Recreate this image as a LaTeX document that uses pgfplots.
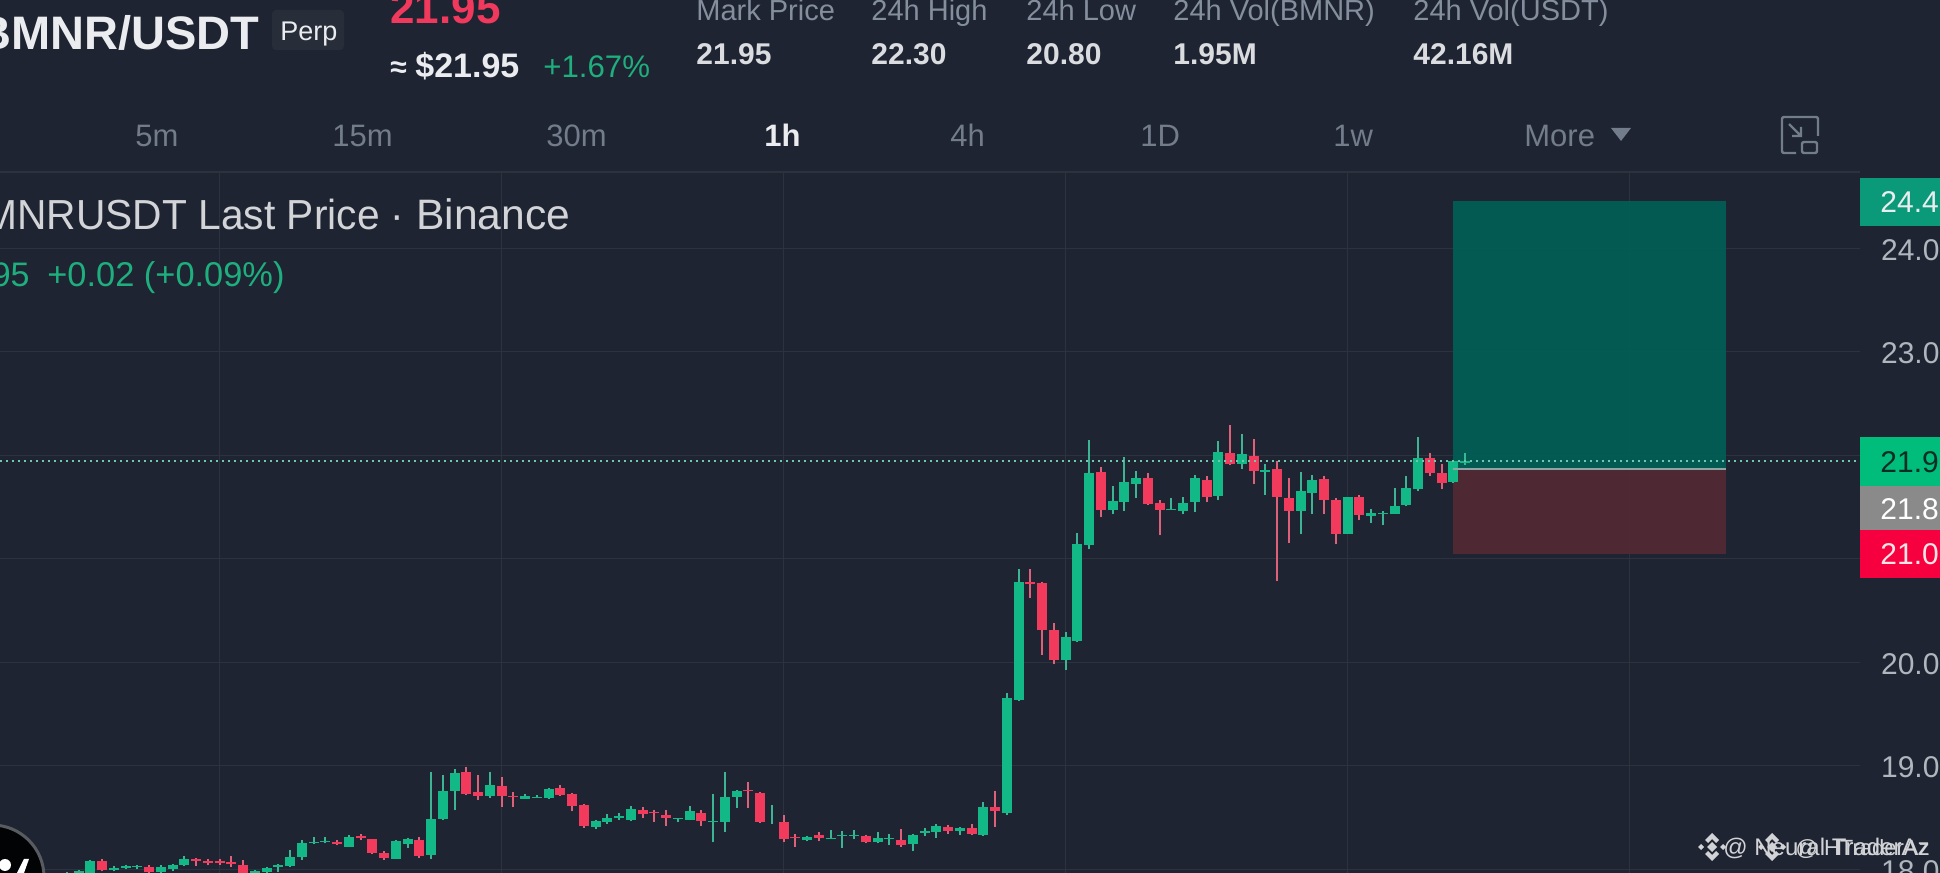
\documentclass[border=0pt]{standalone}
\usepackage{pgfplots}
\usepackage{pgfplotstable}
\usepackage{fontspec}
\setmainfont{Liberation Sans}
\pgfplotsset{compat=1.18}
\definecolor{bg}{HTML}{1E2431}
\definecolor{gridc}{HTML}{2C333F}
\definecolor{upc}{HTML}{12B886}
\definecolor{dnc}{HTML}{F23A5C}
\definecolor{upw}{HTML}{3DB594}
\definecolor{dnw}{HTML}{DF6079}
\definecolor{txtg}{HTML}{848E9C}
\definecolor{tabg}{HTML}{737C8A}
\definecolor{txtw}{HTML}{EAECEF}
\definecolor{ticktxt}{HTML}{B0B6BE}
\definecolor{greentxt}{HTML}{1FAF7E}
\definecolor{redtxt}{HTML}{F0395C}
\definecolor{tpbox}{HTML}{015F56}
\definecolor{slbox}{HTML}{522934}
\definecolor{lbA}{HTML}{0A9A7A}
\definecolor{lbB}{HTML}{00BD7B}
\definecolor{lbC}{HTML}{8A8A8A}
\definecolor{lbD}{HTML}{F6003F}
\definecolor{lineg}{HTML}{8FA5A5}
\definecolor{dotc}{HTML}{6FC8B0}
\definecolor{darkt}{HTML}{0D2D24}
\newcommand\FS[1]{\fontsize{#1pt}{#1pt}\selectfont}
\pgfplotstableread{
i o h l c
-13 17.93 17.97 17.93 17.96
-12 17.93 17.99 17.92 17.98
-11 17.93 18.09 17.92 18.08
-9 17.99 18.03 17.98 18.01
-8 18.01 18.04 18.00 18.03
-7 18.02 18.04 18.00 18.03
-5 17.97 18.04 17.95 18.02
-4 18.00 18.05 17.98 18.04
-3 18.04 18.13 18.03 18.10
3 17.95 17.99 17.94 17.98
4 17.97 18.02 17.96 18.01
5 18.02 18.05 17.97 18.04
6 18.03 18.19 18.02 18.12
7 18.12 18.28 18.09 18.25
8 18.25 18.31 18.24 18.26
9 18.26 18.31 18.25 18.27
11 18.22 18.33 18.22 18.31
15 18.10 18.28 18.10 18.27
16 18.24 18.30 18.21 18.29
18 18.14 18.94 18.10 18.49
19 18.49 18.91 18.48 18.76
20 18.76 18.97 18.57 18.93
23 18.71 18.94 18.69 18.81
26 18.68 18.73 18.68 18.71
27 18.69 18.72 18.69 18.70
28 18.69 18.79 18.68 18.78
32 18.41 18.48 18.39 18.47
33 18.46 18.53 18.44 18.50
34 18.50 18.54 18.48 18.51
35 18.48 18.61 18.47 18.58
39 18.49 18.50 18.46 18.50
40 18.48 18.61 18.48 18.56
42 18.46 18.73 18.26 18.47
43 18.46 18.94 18.36 18.70
44 18.70 18.77 18.59 18.76
47 18.48 18.62 18.44 18.48
50 18.28 18.32 18.27 18.31
52 18.29 18.38 18.29 18.30
53 18.32 18.37 18.21 18.33
54 18.32 18.38 18.29 18.33
56 18.26 18.36 18.25 18.30
57 18.29 18.34 18.23 18.30
59 18.24 18.34 18.18 18.33
60 18.35 18.40 18.32 18.37
61 18.36 18.44 18.30 18.42
63 18.37 18.41 18.33 18.40
65 18.33 18.65 18.32 18.60
67 18.54 19.70 18.52 19.65
68 19.64 20.90 19.63 20.78
72 20.02 20.29 19.93 20.24
73 20.21 21.25 20.20 21.14
74 21.13 22.15 21.09 21.83
76 21.47 21.70 21.43 21.56
77 21.55 21.98 21.46 21.74
78 21.72 21.85 21.59 21.78
81 21.47 21.59 21.47 21.48
82 21.46 21.60 21.43 21.54
83 21.55 21.81 21.45 21.78
85 21.61 22.14 21.57 22.03
87 21.92 22.21 21.87 22.01
89 21.84 21.92 21.62 21.86
92 21.46 21.84 21.24 21.65
93 21.64 21.81 21.43 21.76
96 21.24 21.60 21.24 21.60
98 21.41 21.48 21.35 21.44
99 21.43 21.46 21.33 21.44
100 21.43 21.68 21.43 21.51
101 21.52 21.80 21.51 21.68
102 21.67 22.18 21.65 21.97
105 21.74 21.94 21.73 21.94
106 21.93 22.02 21.91 21.94
}\uptab
\pgfplotstableread{
i o h l c
-10 18.08 18.10 17.98 17.99
-6 18.02 18.04 17.96 17.97
-2 18.10 18.11 18.03 18.08
-1 18.08 18.10 18.04 18.06
0 18.08 18.10 18.04 18.06
1 18.07 18.13 18.02 18.05
2 18.04 18.09 17.94 17.96
10 18.26 18.28 18.23 18.24
12 18.32 18.34 18.28 18.30
13 18.29 18.29 18.15 18.16
14 18.16 18.18 18.09 18.11
17 18.28 18.31 18.11 18.13
21 18.94 18.99 18.72 18.73
22 18.75 18.91 18.67 18.71
24 18.80 18.89 18.60 18.71
25 18.71 18.75 18.60 18.70
29 18.79 18.81 18.71 18.72
30 18.73 18.74 18.56 18.61
31 18.62 18.63 18.40 18.42
36 18.57 18.60 18.50 18.53
37 18.55 18.57 18.46 18.54
38 18.52 18.57 18.42 18.50
41 18.54 18.57 18.42 18.47
45 18.77 18.84 18.59 18.76
46 18.74 18.75 18.45 18.46
48 18.46 18.52 18.26 18.29
49 18.31 18.34 18.22 18.30
51 18.33 18.36 18.27 18.30
55 18.32 18.33 18.25 18.26
58 18.28 18.39 18.22 18.23
62 18.41 18.43 18.34 18.37
64 18.40 18.44 18.33 18.34
66 18.60 18.76 18.41 18.56
69 20.78 20.90 20.62 20.76
70 20.77 20.78 20.07 20.31
71 20.31 20.38 19.98 20.02
75 21.84 21.89 21.40 21.47
79 21.78 21.83 21.52 21.53
80 21.54 21.57 21.23 21.47
84 21.76 21.80 21.55 21.60
86 22.02 22.29 21.91 21.92
88 21.99 22.16 21.72 21.85
90 21.87 21.94 20.79 21.60
91 21.59 21.78 21.15 21.46
94 21.77 21.80 21.43 21.57
95 21.57 21.59 21.14 21.24
97 21.60 21.62 21.37 21.42
103 21.97 22.02 21.80 21.83
104 21.83 21.92 21.67 21.73
}\dntab
\begin{document}
\begin{tikzpicture}
\useasboundingbox (0,0) rectangle (970pt,436.5pt);
\clip (0,0) rectangle (970pt,436.5pt);
\fill[bg] (0,0) rectangle (970pt,436.5pt);
\begin{axis}[
  at={(0,0)}, anchor=south west, scale only axis,
  width=930pt, height=350.5pt,
  xmin=-18.69, xmax=139.6, ymin=17.964, ymax=24.737,
  axis line style={draw=none},
  xtick={0,24,48,72,96,120}, xticklabels={},
  ytick={18,19,20,21,22,23,24},
  yticklabels={18.00,19.00,20.00,,,23.00,24.00},
  yticklabel pos=right,
  major tick length=0pt,
  grid=major,
  grid style={gridc, line width=0.7pt},
  yticklabel style={font=\FS{15}, text=ticktxt, anchor=west, xshift=7pt, yshift=-0.8pt},
]
\addplot[fill=tpbox, fill opacity=0.93, draw=none, forget plot] coordinates {(104.94,24.457)(128.18,24.457)(128.18,21.868)(104.94,21.868)} --cycle;
\addplot[fill=slbox, fill opacity=0.93, draw=none, forget plot] coordinates {(104.94,21.868)(128.18,21.868)(128.18,21.047)(104.94,21.047)} --cycle;
\addplot[color=gridc, line width=1pt, forget plot] coordinates {(-18.69,24.737)(139.6,24.737)};
\addplot[draw=none, mark=none, forget plot, error bars/.cd, y dir=plus, y explicit, error mark=none,
  error bar style={line width=1pt, draw=upw, solid}] table[x=i, y=l, y error expr=\thisrow{h}-\thisrow{l}] {\uptab};
\addplot[draw=none, mark=none, forget plot, error bars/.cd, y dir=plus, y explicit, error mark=none,
  error bar style={line width=1pt, draw=dnw, solid}] table[x=i, y=l, y error expr=\thisrow{h}-\thisrow{l}] {\dntab};
\addplot[draw=none, mark=none, forget plot, error bars/.cd, y dir=plus, y explicit, error mark=none,
  error bar style={line width=5pt, draw=upc, solid}] table[x=i, y=o, y error expr=\thisrow{c}-\thisrow{o}] {\uptab};
\addplot[draw=none, mark=none, forget plot, error bars/.cd, y dir=plus, y explicit, error mark=none,
  error bar style={line width=5pt, draw=dnc, solid}] table[x=i, y=c, y error expr=\thisrow{o}-\thisrow{c}] {\dntab};
\addplot[color=lineg, line width=1pt, forget plot] coordinates {(105,21.868)(128.18,21.868)};
\addplot[color=dotc, line width=1pt, dash pattern=on 1pt off 2pt, forget plot] coordinates {(-18.69,21.945)(139.6,21.945)};
\end{axis}
\begin{scope}[shift={(0,436.5pt)}, x=0.5pt, y=-0.5pt]
  % header
  \node[anchor=base east, inner sep=0, font=\FS{23.5}\bfseries, text=txtw] at (260,50) {BMNR/USDT};
  \fill[fill=white!4!bg, rounded corners=2pt] (272,10) rectangle (344,50);
  \node[anchor=base west, inner sep=0, font=\FS{13.5}, text=txtw] at (280,41) {Perp};
  \node[anchor=base west, inner sep=0, font=\FS{22}\bfseries, text=redtxt] at (390,24) {21.95};
  \node[anchor=base west, inner sep=0, font=\FS{15}\bfseries, text=txtw] at (390,78) {≈};
  \node[anchor=base west, inner sep=0, font=\FS{17}\bfseries, text=txtw] at (415,78) {\$21.95};
  \node[anchor=base west, inner sep=0, font=\FS{15.6}, text=greentxt] at (543,78) {+1.67\%};
  \foreach \x/\t in {696/Mark Price, 871/24h High, 1026/24h Low, 1173/24h Vol(BMNR), 1413/24h Vol(USDT)}
    \node[anchor=base west, inner sep=0, font=\FS{14.5}, text=txtg] at (\x,20.5) {\t};
  \foreach \x/\t in {696/21.95, 871/22.30, 1026/20.80, 1173/1.95M, 1413/42.16M}
    \node[anchor=base west, inner sep=0, font=\FS{15}\bfseries, text=txtw!92!bg] at (\x,65) {\t};
  % tabs
  \foreach \x/\t in {135/5m, 332/15m, 546/30m, 950/4h, 1140/1D, 1333/1w, 1524/More}
    \node[anchor=base west, inner sep=0, font=\FS{15.5}, text=tabg] at (\x,147) {\t};
  \node[anchor=base west, inner sep=0, font=\FS{15.5}\bfseries, text=txtw] at (764,147) {1h};
  \fill[tabg] (1611,128) -- (1631,128) -- (1621,141) -- cycle;
  % icon
  \draw[tabg, line width=1.2pt, rounded corners=1pt] (1796,153) -- (1782,153) -- (1782,117) -- (1818,117) -- (1818,136);
  \draw[tabg, line width=1.2pt, rounded corners=1pt] (1802,142) rectangle (1817,153);
  \draw[tabg, line width=1.2pt] (1789,124) -- (1801,136) (1801,127) -- (1801,136) -- (1792,136);
  % title
  \node[anchor=base east, inner sep=0, font=\FS{21}, text=txtw!88!bg, xscale=0.97] at (405,230) {BMNRUSDT Last Price ·};
  \node[anchor=base west, inner sep=0, font=\FS{21.3}, text=txtw!88!bg] at (416,230) {Binance};
  \node[anchor=base east, inner sep=0, font=\FS{17}, text=greentxt] at (30,287) {21.95};
  \node[anchor=base west, inner sep=0, font=\FS{17.2}, text=greentxt] at (47,287) {+0.02 (+0.09\%)};
  % price labels
  \fill[lbA] (1860,178) rectangle (1940,226);
  \node[anchor=base west, inner sep=0, font=\FS{15}, text=txtw] at (1880,213) {24.46};
  \fill[lbB] (1860,437) rectangle (1940,486);
  \node[anchor=base west, inner sep=0, font=\FS{15}, text=darkt] at (1880,473) {21.95};
  \fill[lbC] (1860,486) rectangle (1940,530);
  \node[anchor=base west, inner sep=0, font=\FS{15}, text=white] at (1880,520) {21.87};
  \fill[lbD] (1860,530) rectangle (1940,578);
  \node[anchor=base west, inner sep=0, font=\FS{15}, text=white!90!red] at (1880,565) {21.05};
  % badge
  \fill[black!92!bg, draw=gray!60!bg, line width=1.5pt] (-8,877) circle [x radius=52, y radius=-52];
  \fill[white] (5,865) circle [radius=6];
  \fill[white] (17,873) -- (24,859) -- (29,859) -- (24,873) -- cycle;
  % watermark
  \foreach \cx in {1712,1772} {
    \fill[white!80!bg] (\cx,833) -- (\cx+7,840) -- (\cx+4,843) -- (\cx,839) -- (\cx-4,843) -- (\cx-7,840) -- cycle;
    \fill[white!80!bg] (\cx,861) -- (\cx+7,854) -- (\cx+4,851) -- (\cx,855) -- (\cx-4,851) -- (\cx-7,854) -- cycle;
    \fill[white!80!bg] (\cx,842) -- (\cx+5,847) -- (\cx,852) -- (\cx-5,847) -- cycle;
    \fill[white!80!bg] (\cx-14,847) -- (\cx-11,844) -- (\cx-8,847) -- (\cx-11,850) -- cycle;
    \fill[white!80!bg] (\cx+14,847) -- (\cx+11,844) -- (\cx+8,847) -- (\cx+11,850) -- cycle;
  }
  \node[anchor=base east, inner sep=0, font=\FS{12}, text=white!80!bg] at (1930,856) {@ Neural TraderAz};
  \node[anchor=base east, inner sep=0, font=\FS{11}, text=white!80!bg] at (1930,856) {@ HTraderAz};
\end{scope}
\end{tikzpicture}
\end{document}
